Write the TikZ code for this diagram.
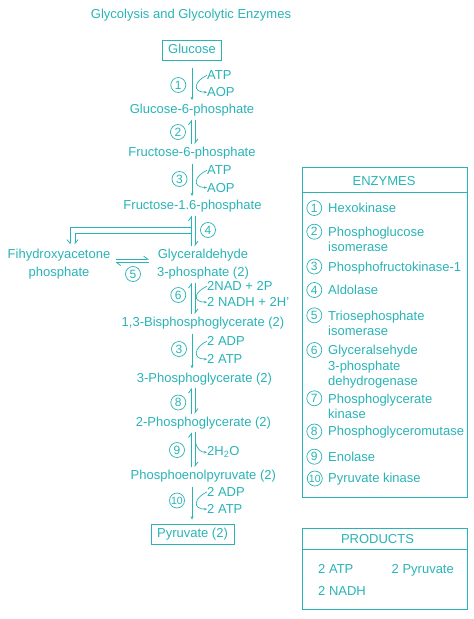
\documentclass[tikz,border=0pt]{standalone}
\usepackage{fontspec}
\setmainfont{Liberation Sans}
\usepackage{xcolor}
\usetikzlibrary{arrows.meta}

\definecolor{tbteal}{HTML}{29B3B6}

\tikzset{
  mol/.style={text=tbteal, inner sep=0pt, font=\fontsize{13}{18}\selectfont},
  molbox/.style={mol, draw=tbteal, line width=0.8pt, text height=9.5pt, text depth=2.7pt, inner xsep=6pt, inner ysep=3.9pt},
  side/.style={mol, anchor=base west},
  item/.style={mol, anchor=north west, align=left, font=\fontsize{13}{15.2}\selectfont},
  num/.style={circle, draw=tbteal, text=tbteal, line width=0.7pt, inner sep=0pt, minimum size=15pt, font=\fontsize{12}{12}\selectfont},
  fwd/.style={draw=tbteal, line width=0.8pt, -{Stealth[length=3.5pt,width=3pt]}, shorten <=4pt, shorten >=4pt},
  harp/.style={draw=tbteal, line width=0.8pt, -{Straight Barb[left,length=4pt,width=6pt]}, shorten <=3pt, shorten >=3pt},
  cofac/.style={draw=tbteal, line width=0.7pt, -{Stealth[length=3pt,width=2.5pt]}},
  branch/.style={draw=tbteal, line width=0.8pt, shorten >=5pt},
  panel/.style={draw=tbteal, line width=0.8pt},
}

\begin{document}
\begin{tikzpicture}[x=1pt, y=-1pt]
  \useasboundingbox (0,0) rectangle (474,619);

  % Label
  \node[mol, anchor=base] (title) at (191,18.7) {Glycolysis and Glycolytic Enzymes};

  % Spine of the pathway
  \coordinate (spine) at (192,0);
  \coordinate (spineL) at (191.5,0);
  \coordinate (spineR) at (195,0);

  % Metabolites
  \node[molbox] (glc) at (192,50) {Glucose};
  \node[mol, anchor=base] (g6p) at (192,113.7) {Glucose-6-phosphate};
  \node[mol, anchor=base] (f6p) at (192,156.7) {Fructose-6-phosphate};
  \node[mol, anchor=base] (f16p) at (192.5,209.7) {Fructose-1.6-phosphate};
  \node[mol, anchor=north, align=center] (dhap) at (59,249.3) {Fihydroxyacetone\\phosphate};
  \node[mol, anchor=north, align=center] (g3p) at (203,249.3) {Glyceraldehyde\\3-phosphate (2)};
  \node[mol, anchor=base] (bpg) at (203,326.7) {1,3-Bisphosphoglycerate (2)};
  \node[mol, anchor=base] (pg3) at (204.5,382) {3-Phosphoglycerate (2)};
  \node[mol, anchor=base] (pg2) at (203.5,426.4) {2-Phosphoglycerate (2)};
  \node[mol, anchor=base] (pep) at (203.3,479.7) {Phosphoenolpyruvate (2)};
  \node[molbox] (pyr) at (192.5,534) {Pyruvate (2)};

  % Cofactors
  \node[side] (atp1) at (207,79.7) {ATP};
  \node[side] (aop1) at (207,96.7) {AOP};
  \node[side] (atp3) at (207,174.7) {ATP};
  \node[side] (aop3) at (207,192) {AOP};
  \node[side] (nad) at (207,290.7) {2NAD + 2P};
  \node[side] (nadh) at (207,306.7) {2 NADH + 2H'};
  \node[side] (adp7) at (207,345.7) {2 ADP};
  \node[side] (atp7) at (207,363.7) {2 ATP};
  \node[side] (h2o) at (207,455.7) {2H\textsubscript{2}O};
  \node[side] (adp10) at (207,496.4) {2 ADP};
  \node[side] (atp10) at (207,513.7) {2 ATP};

  % Step numbers
  \node[num] (c1) at (178.3,85) {1};
  \node[num] (c2) at (178,132) {2};
  \node[num] (c3) at (179.5,179) {3};
  \node[num] (c4) at (208,230) {4};
  \node[num] (c5) at (133,274) {5};
  \node[num] (c6) at (178.3,295) {6};
  \node[num] (c7) at (179,349) {3};
  \node[num] (c8) at (178.3,402.5) {8};
  \node[num] (c9) at (177,450) {9};
  \node[num, font=\fontsize{10.5}{10.5}\selectfont] (c10) at (177,500.5) {10};

  % Step 1
  \draw[fwd, shorten <=8pt] (glc.south) -- (g6p.north -| spine);
  \draw[cofac] (atp1.west) .. controls +(-13,6) and +(-15,0) .. (aop1.west);
  % Step 2
  \draw[harp] (f6p.north -| spineL) -- (g6p.south -| spineL);
  \draw[harp] (g6p.south -| spineR) -- (f6p.north -| spineR);
  % Step 3
  \draw[fwd] (f6p.south -| spine) -- (f16p.north -| spine);
  \draw[cofac] (atp3.west) .. controls +(-13,6) and +(-15,0) .. (aop3.west);
  % Step 4
  \coordinate (branchT) at (191.5,227);
  \coordinate (branchB) at (191.5,233);
  \draw[branch, -{Straight Barb[right,length=3.5pt,width=6pt]}] (branchT) -| ([xshift=11pt]dhap.north);
  \draw[branch, -{Straight Barb[left,length=3.5pt,width=6pt]}] (branchB) -| ([xshift=16pt]dhap.north);
  \draw[harp] (g3p.north -| spineL) -- (f16p.south -| spineL);
  \draw[harp] (f16p.south -| spineR) -- (g3p.north -| spineR);
  % Step 5
  \draw[harp, shorten <=5pt, shorten >=8pt] ([yshift=5.4pt]dhap.east) -- ([yshift=5.4pt]g3p.west);
  \draw[harp, shorten <=8pt, shorten >=5pt] ([yshift=2pt]g3p.west) -- ([yshift=2pt]dhap.east);
  % Step 6
  \draw[harp] (bpg.north -| spineL) -- (g3p.south -| spineL);
  \draw[harp] (g3p.south -| spineR) -- (bpg.north -| spineR);
  \draw[cofac] (nad.west) .. controls +(-13,6) and +(-15,0) .. (nadh.west);
  % Step 7
  \draw[fwd] (bpg.south -| spine) -- (pg3.north -| spine);
  \draw[cofac] (adp7.west) .. controls +(-13,6) and +(-15,0) .. (atp7.west);
  % Step 8
  \draw[harp] (pg2.north -| spineL) -- (pg3.south -| spineL);
  \draw[harp] (pg3.south -| spineR) -- (pg2.north -| spineR);
  % Step 9
  \draw[harp] (pep.north -| spineL) -- (pg2.south -| spineL);
  \draw[harp] (pg2.south -| spineR) -- (pep.north -| spineR);
  \coordinate (hook9) at (195.4,442);
  \draw[cofac] (hook9) .. controls +(2,8) and +(-6,0) .. (h2o.west);
  % Step 10
  \draw[fwd] (pep.south -| spine) -- (pyr.north -| spine);
  \draw[cofac] (adp10.west) .. controls +(-13,6) and +(-15,0) .. (atp10.west);

  % Enzymes panel
  \draw[panel] (302,167) rectangle (467,497);
  \draw[panel] (302,192) -- (467,192);
  \node[mol, anchor=base] (enzhead) at (384,185.4) {ENZYMES};
  \node[num] (e1) at (314.3,208) {1};
  \node[item] (n1) at (328,203.3) {Hexokinase};
  \node[num] (e2) at (314.3,231.7) {2};
  \node[item] (n2) at (328,227) {Phosphoglucose\\isomerase};
  \node[num] (e3) at (314.3,266.5) {3};
  \node[item] (n3) at (328,261.8) {Phosphofructokinase-1};
  \node[num] (e4) at (314.3,290) {4};
  \node[item] (n4) at (328,285.3) {Aldolase};
  \node[num] (e5) at (314.3,315.3) {5};
  \node[item] (n5) at (328,310.6) {Triosephosphate\\isomerase};
  \node[num] (e6) at (314.3,350) {6};
  \node[item] (n6) at (328,345.3) {Glyceralsehyde\\3-phosphate\\dehydrogenase};
  \node[num] (e7) at (314.3,398.3) {7};
  \node[item] (n7) at (328,393.6) {Phosphoglycerate\\kinase};
  \node[num] (e8) at (314.3,431.5) {8};
  \node[item] (n8) at (328,426.3) {Phosphoglyceromutase};
  \node[num] (e9) at (314.3,456.7) {9};
  \node[item] (n9) at (328,452) {Enolase};
  \node[num, font=\fontsize{10.5}{10.5}\selectfont] (e10) at (314.8,478.5) {10};
  \node[item] (n10) at (328,473.3) {Pyruvate kinase};

  % Products panel
  \draw[panel] (302,528) rectangle (467,609);
  \draw[panel] (302,549) -- (467,549);
  \node[mol, anchor=base] (prodhead) at (377.5,543.5) {PRODUCTS};
  \node[side] (p1) at (318,573) {2 ATP};
  \node[side] (p2) at (391.5,573) {2 Pyruvate};
  \node[side] (p3) at (318,595.7) {2 NADH};
\end{tikzpicture}
\end{document}
